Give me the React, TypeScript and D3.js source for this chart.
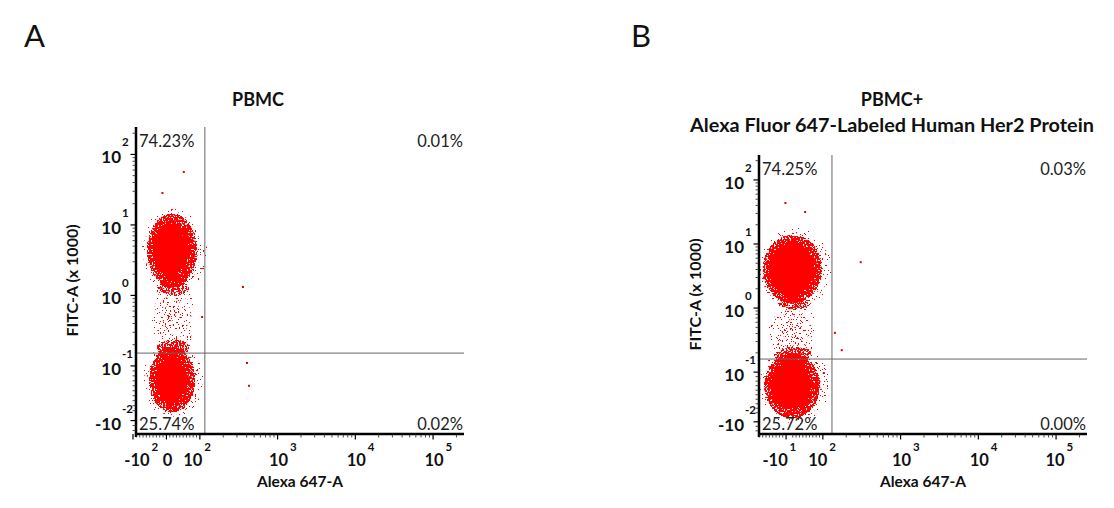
import React from 'react';
import * as d3 from 'd3';

// ---------------- data ----------------
const panelIds = ['A', 'B'];
const titlesA = ['PBMC'];
const titlesB = ['PBMC+', 'Alexa Fluor 647-Labeled Human Her2 Protein'];
const xAxisTitle = 'Alexa 647-A';
const yAxisTitle = 'FITC-A (x 1000)';
// quadrant percentages: upper-left, upper-right, lower-left, lower-right
const quadrantPercentsA = ['74.23%', '0.01%', '25.74%', '0.02%'];
const quadrantPercentsB = ['74.25%', '0.03%', '25.72%', '0.00%'];
// biexponential display: Alexa 647-A (raw), FITC-A (x 1000)
const xDomain = [-91, 250000];
const yDomain = [-0.037, 245];
const xTickValuesA = [-100, 0, 100, 1000, 10000, 100000];
const xTickLabelsA = [['-10', '2'], ['0', ''], ['10', '2'], ['10', '3'], ['10', '4'], ['10', '5']];
const xTickValuesB = [-10, 100, 1000, 10000, 100000];
const xTickLabelsB = [['-10', '1'], ['10', '2'], ['10', '3'], ['10', '4'], ['10', '5']];
const yTickValues = [-0.01, 0.1, 1, 10, 100];
const yTickLabels = [['-10', '-2'], ['10', '-1'], ['10', '0'], ['10', '1'], ['10', '2']];
// quadrant gates [Alexa 647-A, FITC-A]
const gateA = [116, 0.152];
const gateB = [131, 0.16];
// cell populations: kind, Alexa 647-A range, FITC-A range
const populationsA = [
  { kind: 'halo', x: [-75, 125], y: [1.0, 18] },
  { kind: 'halo', x: [-72, 118], y: [-0.006, 0.24] },
  { kind: 'sparse', x: [-45, 85], y: [0.11, 2.0] },
  { kind: 'fringe', x: [-58, 92], y: [1.3, 14.5] },
  { kind: 'fringe', x: [-52, 86], y: [0.006, 0.185] },
  { kind: 'core', x: [-40, 62], y: [1.9, 10.5] },
  { kind: 'core', x: [-30, 56], y: [0.025, 0.13] },
];
const populationsB = [
  { kind: 'halo', x: [-91, 130], y: [0.95, 18] },
  { kind: 'halo', x: [-91, 125], y: [-0.016, 0.25] },
  { kind: 'sparse', x: [-62, 80], y: [0.11, 1.7] },
  { kind: 'fringe', x: [-80, 98], y: [1.18, 14] },
  { kind: 'fringe', x: [-76, 92], y: [-0.003, 0.195] },
  { kind: 'core', x: [-62, 70], y: [1.6, 10.2] },
  { kind: 'core', x: [-55, 62], y: [0.018, 0.14] },
];
// isolated events [Alexa 647-A, FITC-A]
const outliersA = [[52, 56.5], [-12, 28.4], [359, 1.32], [404, 0.11], [429, 0.06], [107, 0.494]];
const outliersB = [[-12, 43.7], [47, 31.6], [307, 5.2], [143, 0.41], [175, 0.22], [103, 0.098]];

// ---------------- layout ----------------
const W = 1114;
const H = 508;
const FONT = "Lato, 'Open Sans', 'DejaVu Sans', sans-serif";
const panelFrames = [
  { left: 136, right: 464, top: 127, bottom: 434, titleX: 258, letterX: 24, xNudge: [4, 1, -7, 1, 1, 1], seed: 3 },
  { left: 759, right: 1087, top: 155, bottom: 434, titleX: 892, letterX: 631, xNudge: [-11, -5, 1, 1, -1], seed: 7 },
];

// biexponential-like scale: linear below `linTop`, logarithmic above
function makeBiex(linTop: number, linWidth: number, domain: number[], range: number[]) {
  const linPart = d3.scaleLinear().domain([0, linTop]).range([0, linWidth]);
  const logPart = d3.scaleLog().domain([linTop, linTop * 10]).range([linWidth, linWidth + 1]);
  const t = (v: number) => (v <= linTop ? linPart(v) : logPart(v));
  const outer = d3.scaleLinear().domain(domain.map(t)).range(range);
  return (v: number) => outer(t(v));
}

const gradientStops: Record<string, [number, number][]> = {
  halo: [[0, 0.36], [0.7, 0.34], [1, 0.3]],
  fringe: [[0, 0.62], [0.6, 0.55], [1, 0.36]],
  core: [[0, 1], [0.65, 1], [1, 0.45]],
  sparse: [[0, 0.4], [1, 0.3]],
};

function Panel({ idx }: { idx: number }) {
  const f = panelFrames[idx];
  const id = panelIds[idx];
  const titles = idx === 0 ? titlesA : titlesB;
  const pct = idx === 0 ? quadrantPercentsA : quadrantPercentsB;
  const xTicks = idx === 0 ? xTickValuesA : xTickValuesB;
  const xLabels = idx === 0 ? xTickLabelsA : xTickLabelsB;
  const gate = idx === 0 ? gateA : gateB;
  const pops = idx === 0 ? populationsA : populationsB;
  const outs = idx === 0 ? outliersA : outliersB;

  const sx = makeBiex(100, 0.43, xDomain, [f.left, f.right]);
  const sy = makeBiex(0.1, 0.705, yDomain, [f.bottom, f.top]);

  const xMinor: number[] = [];
  for (let n = 2; n <= 5; n++) for (let k = 2; k <= 9; k++) {
    const v = k * Math.pow(10, n);
    if (v <= xDomain[1]) xMinor.push(v);
  }
  for (let v = -90; v <= 90; v += 10) if (v !== 0 && !xTicks.includes(v)) xMinor.push(v);
  const yMinor: number[] = [];
  for (let n = -1; n <= 2; n++) for (let k = 2; k <= 9; k++) {
    const v = k * Math.pow(10, n);
    if (v <= yDomain[1]) yMinor.push(v);
  }
  for (let i = -3; i <= 9; i++) {
    const v = i / 100;
    if (i !== 0 && !yTickValues.includes(v)) yMinor.push(v);
  }

  const fid = `speckle${id}`;

  return (
    <g>
      <defs>
        {Object.keys(gradientStops).map((k) => (
          <radialGradient key={k} id={`g-${id}-${k}`}>
            {gradientStops[k].map(([o, a], i) => (
              <stop key={i} offset={o} stopColor="#ff0000" stopOpacity={a} />
            ))}
          </radialGradient>
        ))}
        <filter id={fid} x="-5%" y="-5%" width="110%" height="110%" colorInterpolationFilters="sRGB">
          <feTurbulence type="fractalNoise" baseFrequency="0.63" numOctaves={3} seed={f.seed} result="noise" />
          <feColorMatrix in="noise" type="matrix" values="0 0 0 0 0  0 0 0 0 0  0 0 0 0 0  1 0 0 0 0" result="noiseA" />
          <feComposite in="SourceAlpha" in2="noiseA" operator="arithmetic" k1={0} k2={1} k3={-1} k4={0} result="diff" />
          <feComponentTransfer in="diff" result="mask">
            <feFuncA type="linear" slope={80} intercept={0} />
          </feComponentTransfer>
          <feFlood floodColor="#ff0000" result="red" />
          <feComposite in="red" in2="mask" operator="in" />
        </filter>
      </defs>

      {/* panel letter & title */}
      <text x={f.letterX} y={47} fontFamily={FONT} fontSize={31} fill="#111">{id}</text>
      {titles.map((t, i) => (
        <text key={i} x={f.titleX} y={106 + i * 26} textAnchor="middle" fontFamily={FONT}
          fontWeight={700} fontSize={18} fill="#111"
          {...(t.length > 20 ? { textLength: 404, lengthAdjust: 'spacingAndGlyphs' } : {})}>{t}</text>
      ))}

      {/* events */}
      <g filter={`url(#${fid})`}>
        {pops.map((p, i) => {
          const x0 = sx(p.x[0]), x1 = sx(p.x[1]);
          const y0 = sy(p.y[1]), y1 = sy(p.y[0]);
          return (
            <ellipse key={i} cx={(x0 + x1) / 2} cy={(y0 + y1) / 2} rx={(x1 - x0) / 2} ry={(y1 - y0) / 2}
              fill={`url(#g-${id}-${p.kind})`} />
          );
        })}
      </g>
      {outs.map((o, i) => (
        <rect key={i} x={sx(o[0]) - 1} y={sy(o[1]) - 1} width={2} height={2} fill="#e00000" />
      ))}

      {/* gates */}
      <line x1={sx(gate[0])} x2={sx(gate[0])} y1={f.top} y2={f.bottom} stroke="#666" strokeWidth={1} />
      <line x1={f.left} x2={f.right} y1={sy(gate[1])} y2={sy(gate[1])} stroke="#666" strokeWidth={1} />

      {/* quadrant percentages */}
      <text x={f.left + 3} y={f.top + 20} fontFamily={FONT} fontSize={16.5} fill="#222">{pct[0]}</text>
      <text x={f.right - 1} y={f.top + 20} textAnchor="end" fontFamily={FONT} fontSize={16.5} fill="#222">{pct[1]}</text>
      <text x={f.left + 3} y={f.bottom - 4} fontFamily={FONT} fontSize={16.5} fill="#222">{pct[2]}</text>
      <text x={f.right - 1} y={f.bottom - 4} textAnchor="end" fontFamily={FONT} fontSize={16.5} fill="#222">{pct[3]}</text>

      {/* axes */}
      <line x1={f.left} x2={f.left} y1={f.top} y2={f.bottom + 3} stroke="#000" strokeWidth={2.5} />
      <line x1={f.left - 1} x2={f.right} y1={f.bottom} y2={f.bottom} stroke="#000" strokeWidth={2.5} />
      {xMinor.map((v, i) => (
        <line key={i} x1={sx(v)} x2={sx(v)} y1={f.bottom} y2={f.bottom + 3.5} stroke="#222" strokeWidth={0.8} />
      ))}
      {xTicks.map((v, i) => (
        <line key={i} x1={sx(v)} x2={sx(v)} y1={f.bottom} y2={f.bottom + 5.5} stroke="#000" strokeWidth={1.2} />
      ))}
      {yMinor.map((v, i) => (
        <line key={i} x1={f.left - 3.5} x2={f.left} y1={sy(v)} y2={sy(v)} stroke="#222" strokeWidth={0.8} />
      ))}
      {yTickValues.map((v, i) => (
        <line key={i} x1={f.left - 5.5} x2={f.left} y1={sy(v)} y2={sy(v)} stroke="#000" strokeWidth={1.2} />
      ))}

      {/* x tick labels */}
      {xTicks.map((v, i) => {
        const cx = sx(v) + f.xNudge[i];
        const [base, sup] = xLabels[i];
        const half = base === '-10' ? 13 : base === '10' ? 10 : 5;
        return (
          <g key={i} fontFamily={FONT} fontWeight={700} fill="#111">
            <text x={cx} y={f.bottom + 32} textAnchor="middle" fontSize={16.5}>{base}</text>
            {sup && <text x={cx + half + 1.5} y={f.bottom + 17} fontSize={11.5}>{sup}</text>}
          </g>
        );
      })}
      {/* y tick labels */}
      {yTickValues.map((v, i) => {
        const [base, sup] = yTickLabels[i];
        const y = sy(v);
        return (
          <g key={i} fontFamily={FONT} fontWeight={700} fill="#111">
            <text x={f.left - 15} y={y + 9} textAnchor="end" fontSize={17}>{base}</text>
            <text x={f.left - 14} y={y - 8} fontSize={11.5}>{sup}</text>
          </g>
        );
      })}

      {/* axis titles */}
      <text x={(f.left + f.right) / 2} y={487} textAnchor="middle" fontFamily={FONT} fontWeight={700}
        fontSize={15.5} fill="#111">{xAxisTitle}</text>
      <text transform={`translate(${f.left - 58},${(f.top + f.bottom) / 2}) rotate(-90)`} textAnchor="middle"
        fontFamily={FONT} fontWeight={700} fontSize={16} fill="#111">{yAxisTitle}</text>
    </g>
  );
}

export default function App() {
  return (
    <svg width={W} height={H} viewBox={`0 0 ${W} ${H}`}
      style={{ position: 'absolute', left: 0, top: 0, background: '#fff' }}>
      <rect width={W} height={H} fill="#fff" />
      {panelIds.map((_, i) => <Panel key={i} idx={i} />)}
    </svg>
  );
}
